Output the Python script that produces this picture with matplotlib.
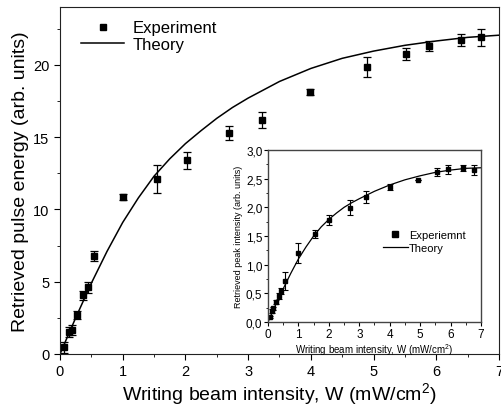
import matplotlib
matplotlib.use("Agg")
import matplotlib.pyplot as plt
from matplotlib.lines import Line2D
from matplotlib.ticker import MultipleLocator, FuncFormatter

plt.rcParams['font.family'] = ['Liberation Sans', 'DejaVu Sans']
plt.rcParams['mathtext.fontset'] = 'custom'
plt.rcParams['mathtext.rm'] = 'Liberation Sans'
plt.rcParams['mathtext.it'] = 'Liberation Sans:italic'

# main panel: retrieved pulse energy
exp_x = [0.07, 0.15, 0.19, 0.27, 0.36, 0.44, 0.54, 1.01, 1.55, 2.02, 2.69, 3.22, 3.98, 4.90, 5.52, 5.89, 6.39, 6.72]
exp_y = [0.45, 1.55, 1.65, 2.7, 4.05, 4.6, 6.8, 10.85, 12.1, 13.4, 15.3, 16.2, 18.1, 19.85, 20.75, 21.3, 21.7, 21.9]
exp_err = [0.4, 0.35, 0.35, 0.3, 0.3, 0.35, 0.35, 0.2, 0.95, 0.6, 0.5, 0.55, 0.2, 0.7, 0.4, 0.35, 0.4, 0.6]

theory_x = [0, 0.25, 0.5, 0.75, 1.0, 1.25, 1.5, 1.75, 2.0, 2.25, 2.5, 2.75, 3.0,
            3.5, 4.0, 4.5, 5.0, 5.5, 6.0, 6.5, 7.0]
theory_y = [0, 2.5, 4.9, 7.1, 9.1, 10.8, 12.3, 13.5, 14.55, 15.45, 16.3, 17.05, 17.7,
            18.85, 19.75, 20.45, 20.95, 21.35, 21.65, 21.9, 22.05]

# inset: retrieved peak intensity
in_x = [0.07, 0.14, 0.18, 0.25, 0.36, 0.43, 0.55, 1.0, 1.56, 2.02, 2.70, 3.23, 4.0, 4.93, 5.56, 5.93, 6.42, 6.78]
in_y = [0.09, 0.19, 0.24, 0.35, 0.45, 0.54, 0.72, 1.2, 1.53, 1.78, 1.99, 2.18, 2.36, 2.47, 2.61, 2.66, 2.69, 2.65]
in_err = [0.02, 0.03, 0.03, 0.03, 0.05, 0.05, 0.16, 0.17, 0.07, 0.09, 0.13, 0.1, 0.05, 0.0, 0.07, 0.07, 0.05, 0.08]

in_th_x = [0, 0.25, 0.5, 0.75, 1.0, 1.25, 1.5, 1.75, 2.0, 2.25, 2.5, 2.75, 3.0,
           3.5, 4.0, 4.5, 5.0, 5.5, 6.0, 6.5, 7.0]
in_th_y = [0, 0.3, 0.58, 0.85, 1.1, 1.31, 1.5, 1.66, 1.79, 1.9, 2.0, 2.08, 2.15,
           2.28, 2.39, 2.48, 2.55, 2.61, 2.65, 2.68, 2.69]

fig = plt.figure(figsize=(5.02, 4.10), dpi=100)
ax = fig.add_axes([60 / 502, 1 - 355 / 410, 439 / 502, 347 / 410])

ax.errorbar(exp_x, exp_y, yerr=exp_err, fmt='s', color='black', ms=4.5,
            capsize=3, elinewidth=0.9, capthick=0.9)
ax.plot(theory_x, theory_y, color='black', lw=1.1)

ax.set_xlim(0, 7)
ax.set_ylim(0, 24)
ax.xaxis.set_major_locator(MultipleLocator(1))
ax.xaxis.set_minor_locator(MultipleLocator(0.5))
ax.yaxis.set_major_locator(MultipleLocator(5))
ax.yaxis.set_minor_locator(MultipleLocator(2.5))
ax.tick_params(which='both', direction='out', top=False, right=False, labelsize=10.5)
ax.tick_params(which='major', length=4)
ax.tick_params(which='minor', length=2.5)
ax.set_xlabel('Writing beam intensity, W (mW/cm$^{2}$)', fontsize=14, labelpad=1)
ax.set_ylabel('Retrieved pulse energy (arb. units)', fontsize=14, labelpad=3)
for s in ax.spines.values():
    s.set_color('#222222')
main_handles = [Line2D([], [], ls='none', marker='s', color='black', ms=4.5),
                Line2D([], [], color='black', lw=1.1)]
ax.legend(main_handles, ['Experiment', 'Theory'], loc='upper left', frameon=False,
          fontsize=12, handlelength=2.6, borderaxespad=0.2, labelspacing=0.1,
          handletextpad=0.5, bbox_to_anchor=(0.025, 0.99))

# inset
ins = fig.add_axes([268 / 502, 1 - 323 / 410, 213 / 502, 172 / 410])
ins.errorbar(in_x, in_y, yerr=in_err, fmt='s', color='black', ms=3.5,
             capsize=2, elinewidth=0.8, capthick=0.8)
ins.plot(in_th_x, in_th_y, color='black', lw=0.9)
ins.set_xlim(0, 7)
ins.set_ylim(0, 3.0)
ins.xaxis.set_major_locator(MultipleLocator(1))
ins.xaxis.set_minor_locator(MultipleLocator(0.5))
ins.yaxis.set_major_locator(MultipleLocator(0.5))
ins.yaxis.set_minor_locator(MultipleLocator(0.25))
ins.yaxis.set_major_formatter(FuncFormatter(lambda v, p: f"{v:.1f}".replace('.', ',')))
ins.tick_params(which='both', direction='out', top=False, right=False, labelsize=8.5, pad=1)
ins.tick_params(which='major', length=3)
ins.tick_params(which='minor', length=1.8)
ins.set_xlabel('Writing beam intensity, W (mW/cm$^{2}$)', fontsize=7, labelpad=1)
ins.set_ylabel('Retrieved peak intensity (arb. units)', fontsize=6.5, labelpad=2)
for s in ins.spines.values():
    s.set_color('#444444')
    s.set_linewidth(1.0)
in_handles = [Line2D([], [], ls='none', marker='s', color='black', ms=4),
              Line2D([], [], color='black', lw=0.9)]
ins.legend(in_handles, ['Experiemnt', 'Theory'], loc='upper left', frameon=False,
           fontsize=8, handlelength=2.2, borderaxespad=0, labelspacing=0.25,
           handletextpad=0.1, bbox_to_anchor=(0.52, 0.56))

fig.savefig('out.png', dpi=100)
